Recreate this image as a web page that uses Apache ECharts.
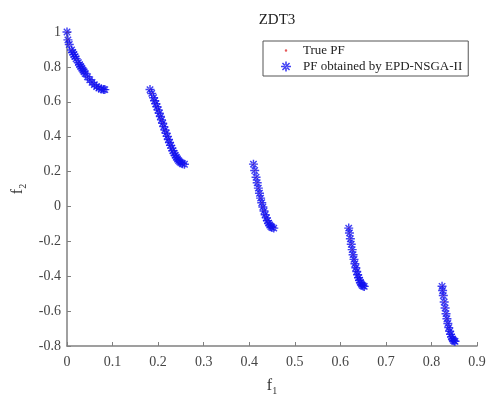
<!DOCTYPE html>
<html>
<head>
<meta charset="utf-8">
<script src="https://cdn.jsdelivr.net/npm/echarts@6/dist/echarts.min.js"></script>
<style>html,body{margin:0;padding:0;background:#fff}#c{width:489px;height:401px}</style>
</head>
<body>
<div id="c"></div>
<script>
// f1 / f2 values (five disconnected ZDT3 front segments)
const f1Values = [
  0,0.002,0.005,0.01,0.0125,0.015,0.0175,0.02,0.025,0.0275,0.03,0.0325,0.035,0.0375,0.04,0.045,0.05,0.055,0.06,0.065,0.07,0.075,0.08,0.083,
  0.1822,0.186,0.19,0.1925,0.195,0.1975,0.2,0.2025,0.205,0.2075,0.21,0.2125,0.215,0.2175,0.22,0.2225,0.225,0.2275,0.23,0.2325,0.235,0.2375,0.24,0.2425,0.245,0.2475,0.25,0.2535,0.2578,
  0.4093,0.412,0.415,0.4175,0.42,0.4225,0.425,0.4275,0.43,0.4325,0.435,0.4375,0.44,0.4425,0.445,0.4475,0.45,0.4539,
  0.6184,0.62,0.622,0.624,0.626,0.628,0.63,0.632,0.634,0.636,0.638,0.64,0.642,0.644,0.646,0.648,0.65,0.6525,
  0.8233,0.8245,0.826,0.828,0.83,0.832,0.834,0.836,0.838,0.84,0.842,0.844,0.846,0.848,0.85,0.8518];
const f2Values = [
  1,0.955,0.9285,0.8969,0.8834,0.8707,0.8586,0.8468,0.8242,0.8133,0.8025,0.792,0.7817,0.7718,0.762,0.7435,0.7264,0.7112,0.698,0.6871,0.6788,0.6731,0.6702,0.6697,
  0.6699,0.6479,0.6228,0.6062,0.5889,0.5711,0.5528,0.5341,0.5151,0.4961,0.4768,0.4577,0.4387,0.42,0.4017,0.3838,0.3666,0.35,0.3343,0.3196,0.3058,0.2933,0.2819,0.2718,0.263,0.2558,0.25,0.2445,0.2422,
  0.2425,0.2064,0.1674,0.1357,0.105,0.0756,0.0476,0.0211,-0.0036,-0.0264,-0.0471,-0.0656,-0.0817,-0.0955,-0.1066,-0.1151,-0.1208,-0.1242,
  -0.1242,-0.1518,-0.1852,-0.217,-0.2476,-0.2764,-0.3034,-0.3286,-0.3518,-0.373,-0.3919,-0.4087,-0.423,-0.4351,-0.4446,-0.4517,-0.4562,-0.4583,
  -0.4579,-0.4819,-0.511,-0.5479,-0.5825,-0.6146,-0.644,-0.6707,-0.6946,-0.7154,-0.7332,-0.7478,-0.7591,-0.7672,-0.772,-0.7733];
const seriesNames = ['True PF', 'PF obtained by EPD-NSGA-II'];
const xTicks = [0,0.1,0.2,0.3,0.4,0.5,0.6,0.7,0.8,0.9];
const yTicks = [-0.8,-0.6,-0.4,-0.2,0,0.2,0.4,0.6,0.8,1];

const pts = f1Values.map((x, i) => [x, f2Values[i]]);
const asterisk = 'path://M-1.6,-10L1.6,-10L1.6,10L-1.6,10Z M-10,-1.6L10,-1.6L10,1.6L-10,1.6Z M-8.2,-6L6,8.2L8.2,6L-6,-8.2Z M-8.2,6L6,-8.2L8.2,-6L-6,8.2Z';
const smallDot = 'path://M-10,-10L-10,-10Z M-2.5,0A2.5,2.5 0 1,1 2.5,0A2.5,2.5 0 1,1 -2.5,0Z M10,10L10,10Z';
const serif = 'Liberation Serif';
const axisCol = '#808080';

const chart = echarts.init(document.getElementById('c'));
chart.setOption({
  animation: false,
  backgroundColor: '#fff',
  title: {
    text: 'ZDT3', left: 272, top: 8, textAlign: 'center',
    textStyle: { fontFamily: serif, fontSize: 15, fontWeight: 'normal', color: '#222' }
  },
  legend: {
    left: 263, top: 41, orient: 'vertical',
    borderColor: '#555', borderWidth: 1, backgroundColor: '#fff',
    padding: [3, 6, 3, 18], itemGap: 3, itemWidth: 12, itemHeight: 10,
    textStyle: { fontFamily: serif, fontSize: 13, color: '#222', padding: [0, 0, 0, 6] },
    data: [
      { name: seriesNames[0], icon: smallDot, itemStyle: { color: '#e03030' } },
      { name: seriesNames[1], icon: asterisk, itemStyle: { color: '#1010f0' } }
    ]
  },
  grid: { left: 67, right: 12, top: 32, bottom: 54 },
  xAxis: {
    type: 'value', min: xTicks[0], max: xTicks[xTicks.length - 1], interval: 0.1,
    name: '{f|f}{s|1}', nameLocation: 'middle', nameGap: 30,
    nameTextStyle: { rich: { f: { fontFamily: serif, fontSize: 16, color: '#333' }, s: { fontFamily: serif, fontSize: 10, color: '#333', padding: [10, 0, 0, 0] } } },
    axisLine: { onZero: false, lineStyle: { color: axisCol, width: 1.5 } },
    axisTick: { inside: true, length: 4, lineStyle: { color: axisCol } },
    axisLabel: { fontFamily: serif, fontSize: 14, color: '#444', margin: 9 },
    splitLine: { show: false }
  },
  yAxis: {
    type: 'value', min: yTicks[0], max: yTicks[yTicks.length - 1], interval: 0.2,
    name: '{f|f}{s|2}', nameLocation: 'middle', nameGap: 37,
    nameTextStyle: { rich: { f: { fontFamily: serif, fontSize: 16, color: '#333' }, s: { fontFamily: serif, fontSize: 10, color: '#333', padding: [10, 0, 0, 0] } } },
    axisLine: { onZero: false, lineStyle: { color: axisCol, width: 1.5 } },
    axisTick: { inside: true, length: 4, lineStyle: { color: axisCol } },
    axisLabel: { fontFamily: serif, fontSize: 14, color: '#444', margin: 6 },
    splitLine: { show: false }
  },
  series: [
    { name: seriesNames[0], type: 'scatter', data: pts, symbol: 'circle', symbolSize: 2, itemStyle: { color: '#e03030' }, z: 2 },
    { name: seriesNames[1], type: 'scatter', data: pts, symbol: asterisk, symbolSize: 9, itemStyle: { color: '#1010f0' }, z: 3 }
  ]
});
</script>
</body>
</html>
